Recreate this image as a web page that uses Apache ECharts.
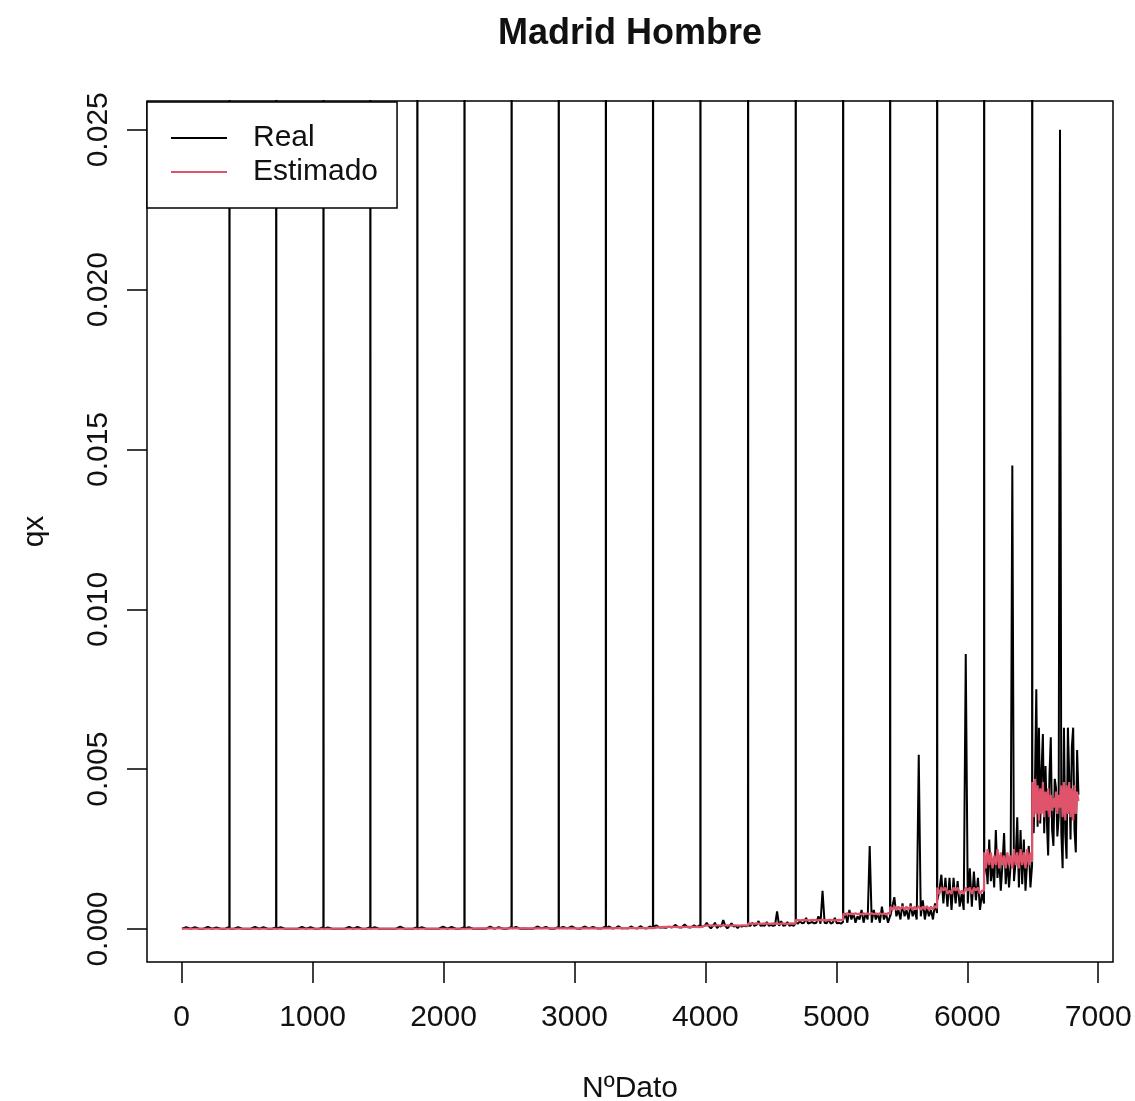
<!DOCTYPE html>
<html><head><meta charset="utf-8">
<script src="https://cdn.jsdelivr.net/npm/echarts@6/dist/echarts.min.js"></script>
<style>html,body{margin:0;padding:0;background:#fff}#c{width:1135px;height:1101px}</style>
</head><body><div id="c"></div>
<script>
const titleText = 'Madrid Hombre';
const xName = 'NºDato';
const yName = 'qx';
const seriesNames = ['Real', 'Estimado'];
const xTicks = [0, 1000, 2000, 3000, 4000, 5000, 6000, 7000];
const yTicks = [0, 0.005, 0.010, 0.015, 0.020, 0.025];

// x positions (NºDato) where each block ends (Real jumps far above the plot there)
const groupBreaks = [365, 722, 1083, 1441, 1800, 2160, 2520, 2880, 3240, 3600, 3962, 4326, 4690, 5052, 5411, 5770, 6129, 6496];
const firstX = 1, lastX = 6850;
const breakSpikeQx = 0.1; // off-scale value at each break (clipped)

// Real qx, read per block
const realG01 = [0.00001,0.00006,0.00001,0.00006,0.00001,0.00001,0.00007,0.00001,0.00005,0.00001,0.00001,0.00007];
const realG02 = [0.00001,0.00001,0.00006,0.00001,0.00001,0.00001,0.00007,0.00001,0.00006,0.00001,0.00001,0.00005];
const realG03 = [0.00001,0.00006,0.00001,0.00001,0.00001,0.00001,0.00007,0.00001,0.00006,0.00001,0.00001,0.00006];
const realG04 = [0.00001,0.00005,0.00001,0.00001,0.00001,0.00001,0.00007,0.00001,0.00007,0.00001,0.00001,0.00006];
const realG05 = [0.00001,0.00006,0.00001,0.00001,0.00001,0.00001,0.00001,0.00008,0.00001,0.00001,0.00001,0.00006];
const realG06 = [0.00001,0.00006,0.00001,0.00001,0.00001,0.00001,0.00008,0.00001,0.00007,0.00001,0.00001,0.00006];
const realG07 = [0.00002,0.00006,0.00001,0.00001,0.00001,0.00001,0.00008,0.00001,0.00006,0.00001,0.00001,0.00007];
const realG08 = [0.00002,0.00007,0.00001,0.00002,0.00001,0.00001,0.00008,0.00002,0.00007,0.00001,0.00001,0.00007];
const realG09 = [0.00002,0.00007,0.00002,0.00008,0.00002,0.00001,0.00008,0.00002,0.00007,0.00002,0.00002,0.00008];
const realG10 = [0.00003,0.00008,0.00002,0.00003,0.00009,0.00002,0.00003,0.00002,0.00008,0.00003,0.00002,0.00009,0.00003,0.00002,0.00008,0.00003];
const realG11 = [0.00006,0.00012,0.00005,0.00006,0.00004,0.00007,0.00005,0.00013,0.00006,0.00005,0.00014,0.00006,0.00005,0.00012,0.00006,0.00013];
const realG12 = [0.0001,0.00008,0.0001,0.0002,0.00009,0.00002,0.0001,0.0002,0.00003,0.0001,0.00008,0.00028,0.0001,0.00002,0.0001,0.00018,0.00008,0.0001,0.00003,0.0001,0.00008,0.0001,0.00009,0.0001];
const realG13 = [0.00012,0.0001,0.0002,0.0001,0.00013,0.00025,0.0001,0.00012,0.0001,0.00022,0.0001,0.00013,0.0001,0.00012,0.00055,0.0001,0.00025,0.0001,0.00012,0.00022,0.0001,0.00013,0.0001,0.00018];
const realG14 = [0.0002,0.00017,0.00025,0.00018,0.0002,0.00035,0.00017,0.0002,0.00022,0.00018,0.0002,0.0004,0.00017,0.0012,0.0002,0.00018,0.0003,0.00017,0.0002,0.00035,0.00018,0.0002,0.00017,0.00022];
const realG15 = [0.0003,0.0005,0.0002,0.0006,0.0003,0.0005,0.0002,0.0004,0.0003,0.0006,0.0002,0.0005,0.0003,0.0026,0.0002,0.0006,0.0003,0.0005,0.0002,0.0007,0.0003,0.0005,0.0002,0.0004];
const realG16 = [0.0004,0.0007,0.0010,0.0004,0.0006,0.0003,0.0008,0.0004,0.0006,0.0003,0.0008,0.0004,0.0006,0.0003,0.00545,0.0004,0.0009,0.0003,0.0007,0.0004,0.0006,0.0003,0.0008,0.0005];
const realG17 = [0.0009,0.0012,0.0017,0.0008,0.0016,0.0007,0.0016,0.0006,0.0016,0.0008,0.0015,0.0007,0.0011,0.0006,0.0086,0.0008,0.0019,0.0007,0.0018,0.0009,0.0016,0.0006,0.0011,0.0008];
const realG18 = [0.0017,0.0022,0.0014,0.0028,0.0015,0.0021,0.0013,0.0031,0.0016,0.0023,0.0012,0.0020,0.0030,0.0014,0.0022,0.0013,0.0020,0.0145,0.0015,0.0021,0.0035,0.0013,0.0031,0.0014,0.0028,0.0012,0.0021,0.0026,0.0013,0.0020];
const realG19 = [0.0040,0.0030,0.0046,0.0075,0.0032,0.0063,0.0033,0.0050,0.0061,0.0030,0.0051,0.0034,0.0023,0.0048,0.0060,0.0031,0.0026,0.0047,0.0044,0.0029,0.0035,0.0250,0.0030,0.0019,0.0063,0.0030,0.0022,0.0063,0.0048,0.0028,0.0057,0.0063,0.0031,0.0024,0.0056,0.0042];

// Estimado qx, read per block
const estG01 = [0.00001,0.00001,0.00001,0.00001];
const estG02 = [0.00001,0.00001,0.00001,0.00001];
const estG03 = [0.00001,0.00001,0.00001,0.00001];
const estG04 = [0.00001,0.00001,0.00001,0.00001];
const estG05 = [0.00001,0.00001,0.00001,0.00001];
const estG06 = [0.00001,0.00001,0.00001,0.00001];
const estG07 = [0.00002,0.00002,0.00002,0.00002];
const estG08 = [0.00002,0.00002,0.00002,0.00002];
const estG09 = [0.00002,0.00002,0.00002,0.00002];
const estG10 = [0.00003,0.00003,0.00003,0.00003];
const estG11 = [0.00007,0.00006,0.00007,0.00007,0.00006,0.00007,0.00007,0.00006];
const estG12 = [0.00012,0.00011,0.00012,0.00011,0.00012,0.00011,0.00012,0.00011,0.00012,0.00011,0.00012,0.00011];
const estG13 = [0.00018,0.00016,0.00018,0.00016,0.00018,0.00016,0.00018,0.00016,0.00018,0.00016,0.00018,0.00017];
const estG14 = [0.00029,0.00027,0.00029,0.00027,0.00029,0.00027,0.00029,0.00027,0.00029,0.00027,0.00029,0.00028];
const estG15 = [0.00048,0.00045,0.0005,0.00046,0.00049,0.00045,0.0005,0.00046,0.00049,0.00045,0.0005,0.00046,0.00049,0.00045,0.0005,0.00046,0.00049,0.00045,0.0005,0.00046,0.00049,0.00045,0.0005,0.00047];
const estG16 = [0.0007,0.0006,0.00072,0.0006,0.0007,0.00062,0.00072,0.0006,0.0007,0.00062,0.00072,0.0006,0.0007,0.00062,0.00072,0.0006,0.0007,0.00062,0.00072,0.0006,0.0007,0.00062,0.00072,0.00065];
const estG17 = [0.0013,0.0011,0.0013,0.0012,0.0013,0.0011,0.0012,0.0011,0.0013,0.0012,0.0013,0.0011,0.0012,0.0011,0.0013,0.0012,0.0013,0.0011,0.0013,0.0012,0.0013,0.0011,0.0012,0.0012];
const estG18 = [0.0024,0.0019,0.0025,0.0020,0.0024,0.0019,0.0023,0.0020,0.0025,0.0019,0.0024,0.0020,0.0023,0.0019,0.0024,0.0020,0.0023,0.0019,0.0025,0.0020,0.0024,0.0019,0.0025,0.0020,0.0024,0.0019,0.0025,0.0020,0.0024,0.0021];
const estG19 = [0.0046,0.0035,0.0047,0.0036,0.0045,0.0034,0.0044,0.0036,0.0046,0.0035,0.0043,0.0037,0.0044,0.0035,0.0042,0.0037,0.0041,0.0038,0.0043,0.0036,0.0042,0.0038,0.0045,0.0035,0.0046,0.0034,0.0045,0.0036,0.0046,0.0035,0.0044,0.0034,0.0045,0.0036,0.0043,0.0040];

const realGroups = [realG01,realG02,realG03,realG04,realG05,realG06,realG07,realG08,realG09,realG10,realG11,realG12,realG13,realG14,realG15,realG16,realG17,realG18,realG19];
const estGroups = [estG01,estG02,estG03,estG04,estG05,estG06,estG07,estG08,estG09,estG10,estG11,estG12,estG13,estG14,estG15,estG16,estG17,estG18,estG19];

const starts = [firstX].concat(groupBreaks);
const ends = groupBreaks.concat([lastX]);
// place a block's readings evenly from just after its start to just before its end
function spread(vals, g) {
  const s = starts[g] + 1, e = ends[g] - 1, n = vals.length;
  return vals.map((v, i) => [s + i * (e - s) / (n - 1), v]);
}
const realData = [], estData = [];
for (let g = 0; g < realGroups.length; g++) {
  realData.push(...spread(realGroups[g], g));
  if (g < groupBreaks.length) realData.push([groupBreaks[g], breakSpikeQx]);
  estData.push(...spread(estGroups[g], g));
}

const FONT = 'Liberation Sans, Arial, sans-serif';
const chart = echarts.init(document.getElementById('c'), null, {renderer: 'canvas'});
chart.setOption({
  animation: false,
  backgroundColor: '#fff',
  title: {
    text: titleText, left: 630, top: 16, textAlign: 'center', padding: 0,
    textStyle: {fontFamily: FONT, fontWeight: 'bold', fontSize: 36, color: '#111'}
  },
  legend: {
    left: 147, top: 102, orient: 'vertical', z: 10, icon: 'rect',
    backgroundColor: '#fff', borderColor: '#000', borderWidth: 1.5, borderRadius: 0,
    padding: [21, 19, 21, 24], itemGap: 4, itemWidth: 56, itemHeight: 2,
    textStyle: {fontFamily: FONT, fontSize: 30, color: '#111', lineHeight: 30, padding: [0, 0, 0, 21]},
    data: seriesNames
  },
  grid: {left: 147, right: 22, top: 101, bottom: 139, show: true, borderColor: '#000', borderWidth: 1.5,
    containLabel: false, outerBoundsMode: 'none'},
  xAxis: {
    type: 'value', min: -265, max: 7113,
    name: xName, nameLocation: 'middle', nameGap: 112,
    nameTextStyle: {fontFamily: FONT, fontSize: 30, color: '#111'},
    axisLine: {show: false, onZero: false}, splitLine: {show: false},
    axisTick: {show: true, inside: false, length: 21, lineStyle: {color: '#000', width: 1.5}, customValues: xTicks},
    axisLabel: {fontFamily: FONT, fontSize: 30, color: '#111', margin: 41, customValues: xTicks,
      formatter: v => String(Math.round(v))}
  },
  yAxis: {
    type: 'value', min: -0.00103, max: 0.0259,
    name: yName, nameLocation: 'middle', nameGap: 97,
    nameTextStyle: {fontFamily: FONT, fontSize: 30, color: '#111'},
    axisLine: {show: false, onZero: false}, splitLine: {show: false},
    axisTick: {show: true, inside: false, length: 20, lineStyle: {color: '#000', width: 1.5}, customValues: yTicks},
    axisLabel: {fontFamily: FONT, fontSize: 30, color: '#111', margin: 33, rotate: 90, customValues: yTicks,
      formatter: v => v.toFixed(3)}
  },
  series: [
    {name: seriesNames[0], type: 'line', data: realData, symbol: 'none', clip: true,
     lineStyle: {color: '#000', width: 2}, itemStyle: {color: '#000'}},
    {name: seriesNames[1], type: 'line', data: estData, symbol: 'none', clip: true,
     lineStyle: {color: '#DF536B', width: 2.2}, itemStyle: {color: '#DF536B'}}
  ]
});
</script></body></html>
